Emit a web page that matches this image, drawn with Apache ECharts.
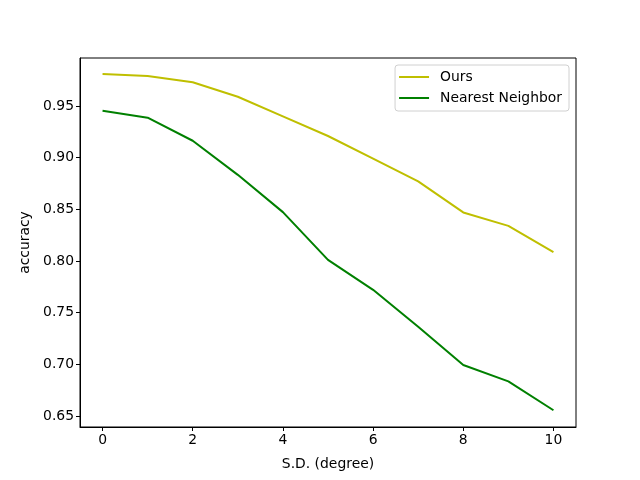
<!DOCTYPE html>
<html><head><meta charset="utf-8">
<script src="https://cdn.jsdelivr.net/npm/echarts@6/dist/echarts.min.js"></script>
<style>html,body{margin:0;padding:0;background:#fff}#c{width:640px;height:480px}</style>
</head><body><div id="c"></div>
<script>
const sd = [0,1,2,3,4,5,6,7,8,9,10];
const ours = [0.981,0.979,0.973,0.959,0.940,0.921,0.899,0.877,0.847,0.834,0.8085];
const nearest = [0.9454,0.9387,0.9164,0.8834,0.8473,0.8011,0.7721,0.7364,0.6993,0.6835,0.6555];
const xTicks = [0,2,4,6,8,10];
const yTicks = [0.65,0.70,0.75,0.80,0.85,0.90,0.95];
const font = 'DejaVu Sans';
const chart = echarts.init(document.getElementById('c'), null, {renderer:'canvas'});
chart.setOption({
  animation:false,
  backgroundColor:'#fff',
  textStyle:{fontFamily:font},
  grid:{left:80,right:64,top:58,bottom:53,show:true,borderColor:'#000',borderWidth:1,backgroundColor:'transparent'},
  legend:{
    right:71, top:65, orient:'vertical', itemGap:5,
    itemWidth:30, itemHeight:2,
    backgroundColor:'#fff', borderColor:'#d0d0d0', borderWidth:1, borderRadius:3,
    padding:[4,7,5,4],
    textStyle:{fontFamily:font,fontSize:13.9,color:'#000',padding:[0,0,0,6],height:16,lineHeight:16},
    data:[{name:'Ours',icon:'rect'},{name:'Nearest Neighbor',icon:'rect'}],
    itemStyle:{borderWidth:0}
  },
  xAxis:{
    type:'value', min:-0.5, max:10.5,
    name:'S.D. (degree)', nameLocation:'middle', nameGap:30,
    nameTextStyle:{fontFamily:font,fontSize:13.9,color:'#000'},
    axisLine:{show:true,onZero:false,lineStyle:{color:'#000',width:1}},
    axisTick:{show:true,inside:false,length:4,lineStyle:{color:'#000'},customValues:xTicks},
    axisLabel:{show:true,color:'#000',fontFamily:font,fontSize:13.9,margin:6,customValues:xTicks,formatter:v=>String(v)},
    splitLine:{show:false}
  },
  yAxis:{
    type:'value', min:0.6393, max:0.9965,
    name:'accuracy', nameLocation:'middle', nameGap:44, nameRotate:90,
    nameTextStyle:{fontFamily:font,fontSize:13.9,color:'#000'},
    axisLine:{show:true,onZero:false,lineStyle:{color:'#000',width:1}},
    axisTick:{show:true,inside:false,length:4,lineStyle:{color:'#000'},customValues:yTicks},
    axisLabel:{show:true,color:'#000',fontFamily:font,fontSize:13.9,margin:6,customValues:yTicks,formatter:v=>v.toFixed(2)},
    splitLine:{show:false}
  },
  series:[
    {name:'Ours',type:'line',data:sd.map((x,i)=>[x,ours[i]]),symbol:'none',
     lineStyle:{color:'#bfbf00',width:2},itemStyle:{color:'#bfbf00'}},
    {name:'Nearest Neighbor',type:'line',data:sd.map((x,i)=>[x,nearest[i]]),symbol:'none',
     lineStyle:{color:'#008000',width:2},itemStyle:{color:'#008000'}}
  ]
});
</script></body></html>
